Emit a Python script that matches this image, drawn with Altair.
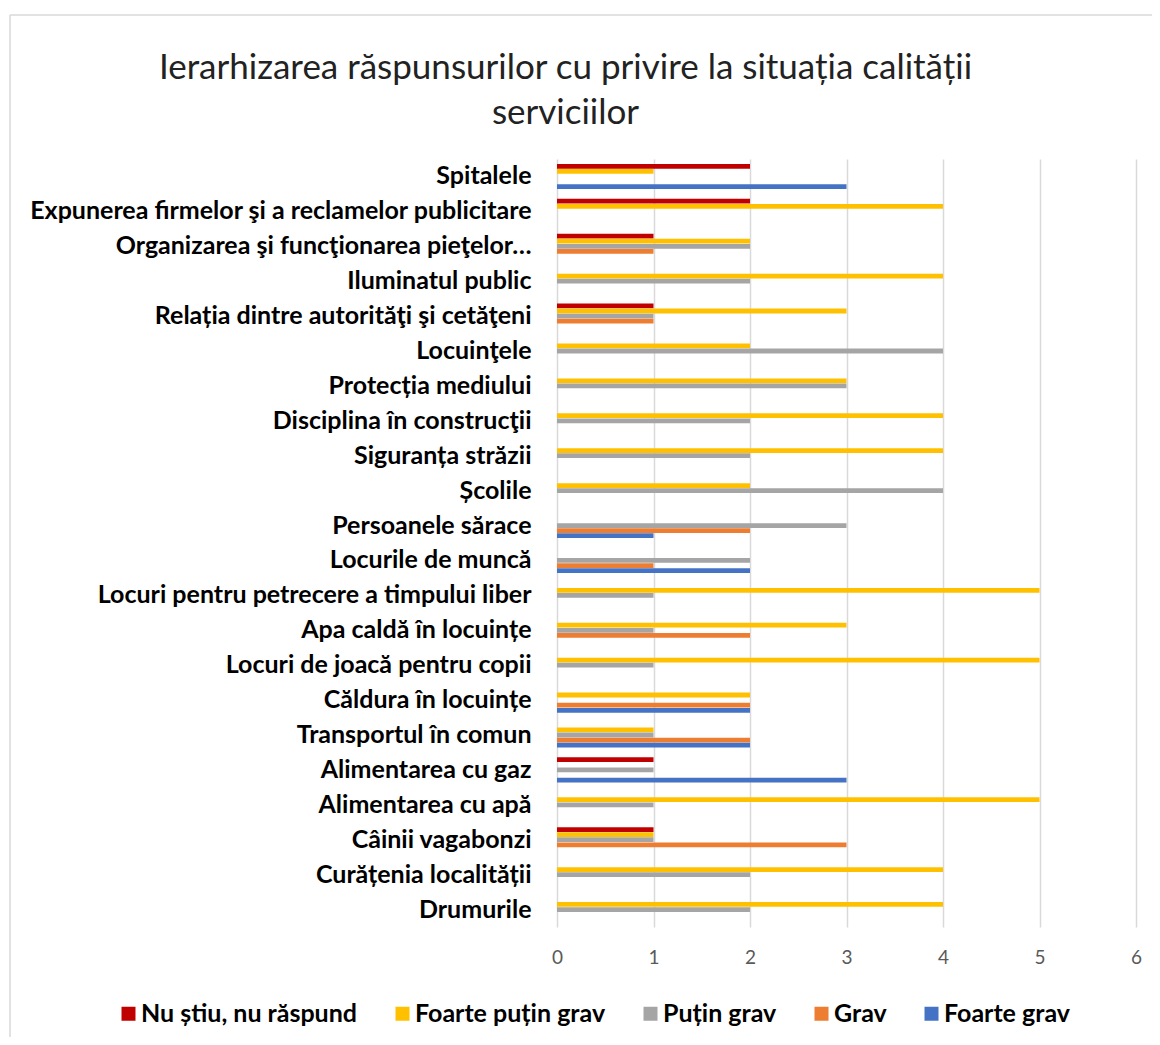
import altair as alt
import pandas as pd

categories = [
    "Spitalele",
    "Expunerea firmelor şi a reclamelor publicitare",
    "Organizarea şi funcţionarea pieţelor…",
    "Iluminatul public",
    "Relația dintre autorităţi şi cetăţeni",
    "Locuinţele",
    "Protecția mediului",
    "Disciplina în construcţii",
    "Siguranța străzii",
    "Școlile",
    "Persoanele sărace",
    "Locurile de muncă",
    "Locuri pentru petrecere a  timpului liber",
    "Apa caldă în locuințe",
    "Locuri de joacă pentru copii",
    "Căldura în locuințe",
    "Transportul în comun",
    "Alimentarea cu gaz",
    "Alimentarea cu apă",
    "Câinii vagabonzi",
    "Curățenia localității",
    "Drumurile",
]

series = ["Nu știu, nu răspund", "Foarte puțin grav", "Puțin grav", "Grav", "Foarte grav"]
colors = ["#C00000", "#FFC000", "#A5A5A5", "#ED7D31", "#4472C4"]

nu_stiu      = [2, 2, 1, 0, 1, 0, 0, 0, 0, 0, 0, 0, 0, 0, 0, 0, 0, 1, 0, 1, 0, 0]
foarte_putin = [1, 4, 2, 4, 3, 2, 3, 4, 4, 2, 0, 0, 5, 3, 5, 2, 1, 0, 5, 1, 4, 4]
putin        = [0, 0, 2, 2, 1, 4, 3, 2, 2, 4, 3, 2, 1, 1, 1, 0, 1, 1, 1, 1, 2, 2]
grav         = [0, 0, 1, 0, 1, 0, 0, 0, 0, 0, 2, 1, 0, 2, 0, 2, 2, 0, 0, 3, 0, 0]
foarte_grav  = [3, 0, 0, 0, 0, 0, 0, 0, 0, 0, 1, 2, 0, 0, 0, 2, 2, 3, 0, 0, 0, 0]

rows = []
for s, vals in zip(series, [nu_stiu, foarte_putin, putin, grav, foarte_grav]):
    for c, v in zip(categories, vals):
        if v > 0:
            rows.append({"cat": c, "series": s, "value": v})
df = pd.DataFrame(rows)

FONT = "Lato"

bars = alt.Chart(df).mark_bar().encode(
    x=alt.X(
        "value:Q",
        scale=alt.Scale(domain=[0, 6], nice=False),
        axis=alt.Axis(
            values=[0, 1, 2, 3, 4, 5, 6], grid=True, gridColor="#d9d9d9", gridWidth=1.5,
            domain=False, ticks=False, labelColor="#595959", labelFontSize=19,
            labelPadding=21, title=None, labelFont=FONT, labelFlush=False,
        ),
    ),
    y=alt.Y(
        "cat:N", sort=categories,
        scale=alt.Scale(domain=categories, paddingInner=0.28, paddingOuter=0.14),
        axis=alt.Axis(
            title=None, domain=False, ticks=False, grid=False, labelFontWeight="bold",
            labelFontSize=25, labelColor="black", labelPadding=26, labelLimit=0, labelFont=FONT,
        ),
    ),
    yOffset=alt.YOffset("series:N", sort=series, scale=alt.Scale(domain=series, paddingInner=0.06)),
    color=alt.Color(
        "series:N",
        scale=alt.Scale(domain=series, range=colors),
        legend=alt.Legend(
            orient="none", legendX=-441, legendY=842, direction="horizontal", title=None,
            symbolType="square", symbolSize=196, symbolStrokeWidth=0, labelFontSize=25,
            labelFontWeight="bold", labelFont=FONT, labelColor="black", columnPadding=32,
            labelOffset=0, labelLimit=0,
        ),
    ),
)

frame_df = pd.DataFrame({"a": [0]})
left_border = alt.Chart(frame_df).mark_rule(color="#d9d9d9", strokeWidth=1.5).encode(
    x=alt.value(-547), y=alt.value(-144), y2=alt.value(890)
)
top_border = alt.Chart(frame_df).mark_rule(color="#d9d9d9", strokeWidth=1.5).encode(
    x=alt.value(-547), x2=alt.value(600), y=alt.value(-144)
)

chart = alt.layer(bars, left_border, top_border).properties(
    width=579,
    height=768,
    title=alt.TitleParams(
        text=["Ierarhizarea răspunsurilor cu privire la situația calității", "serviciilor"],
        fontSize=35, font=FONT, fontWeight="normal", color="#222222",
        anchor="middle", frame="group", dx=-281, offset=-117, lineHeight=45,
    ),
    autosize=alt.AutoSizeParams(type="none"),
    padding={"left": 549, "top": 151, "right": 16, "bottom": 110},
).configure_view(stroke=None)

chart.save("out.html", embed_options={"renderer": "svg", "actions": False})
